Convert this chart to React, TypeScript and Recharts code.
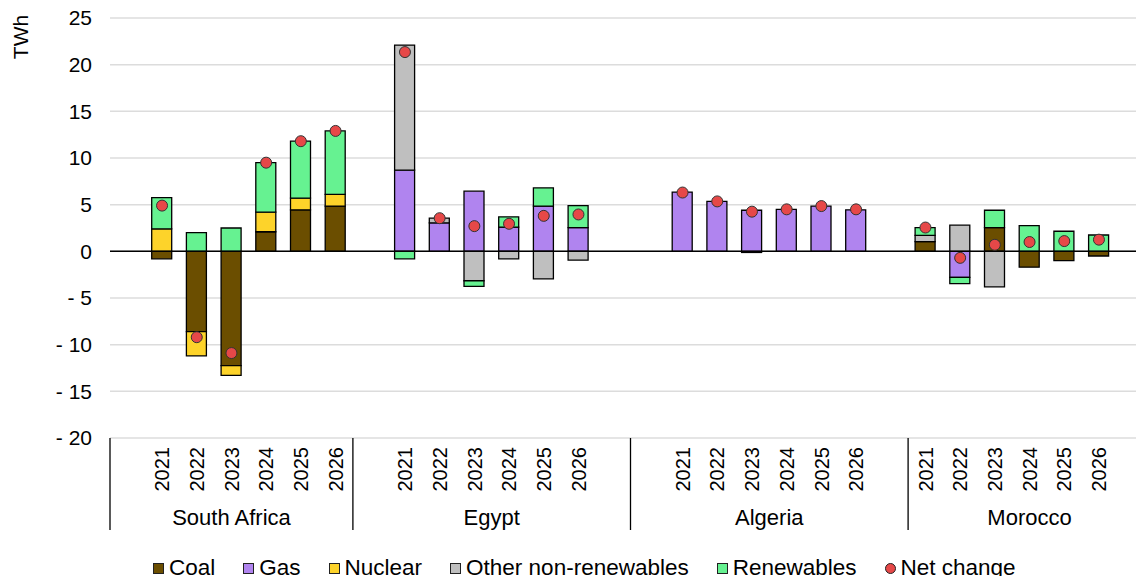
import {
  ComposedChart, Bar, Line, XAxis, YAxis, CartesianGrid, ReferenceLine, Legend,
} from 'recharts';

const countries = ['South Africa', 'Egypt', 'Algeria', 'Morocco'];
const years = ['2021', '2022', '2023', '2024', '2025', '2026'];

// TWh, six years per country, countries in the order above
const coal = [
  -0.8, -8.6, -12.25, 2.1, 4.45, 4.85,
  0, 0, 0, 0, 0, 0,
  0, 0, -0.12, 0, 0, 0,
  1.05, 0, 2.55, -1.7, -1.0, -0.5,
];
const gas = [
  0, 0, 0, 0, 0, 0,
  8.7, 3.05, 6.45, 2.6, 4.85, 2.55,
  6.35, 5.35, 4.4, 4.5, 4.85, 4.45,
  0, -2.8, 0, 0, 0, 0,
];
const nuclear = [
  2.4, -2.6, -1.05, 2.1, 1.25, 1.25,
  0, 0, 0, 0, 0, 0,
  0, 0, 0, 0, 0, 0,
  0, 0, 0, 0, 0, 0,
];
const other = [
  0, 0, 0, 0, 0, 0,
  13.4, 0.5, -3.15, -0.8, -2.95, -0.95,
  0, 0, 0, 0, 0, 0,
  0.65, 2.8, -3.8, 0, 0, 0,
];
const renewables = [
  3.35, 2.0, 2.5, 5.3, 6.1, 6.8,
  -0.8, 0, -0.6, 1.1, 1.95, 2.35,
  0, 0, 0, 0, 0, 0,
  0.85, -0.65, 1.85, 2.75, 2.15, 1.75,
];
const netChange = [
  4.9, -9.2, -10.9, 9.5, 11.8, 12.9,
  21.35, 3.55, 2.7, 2.95, 3.8, 3.95,
  6.3, 5.35, 4.25, 4.5, 4.85, 4.5,
  2.55, -0.7, 0.7, 1.0, 1.1, 1.25,
];

const yTicks = [-20, -15, -10, -5, 0, 5, 10, 15, 20, 25];

// blank slots before / after each country block
const gapsBefore = [1, 1, 1, 0];
const gapsAfter = [0, 1, 1, 1];

const COLORS = {
  coal: '#6b4e00',
  gas: '#b084ef',
  nuclear: '#fdd32a',
  other: '#bfbfbf',
  renewables: '#66f291',
  net: '#e64848',
};

const FONT = '"Liberation Sans", Arial, sans-serif';
const CHART_W = 1151;
const CHART_H = 584;
const Y_AXIS_W = 110;
const PLOT_BOTTOM = 438;

type Row = {
  key: string;
  country: string;
  year: string;
  groupSize?: number;
  coal?: number | null;
  gas?: number | null;
  nuclear?: number | null;
  other?: number | null;
  renewables?: number | null;
  net?: number | null;
};

const nz = (v: number) => (v === 0 ? null : v);

const rows: Row[] = [];
countries.forEach((c, ci) => {
  const start = rows.length;
  for (let g = 0; g < gapsBefore[ci]; g++) rows.push({ key: `${c}-a${g}`, country: c, year: '' });
  years.forEach((y, yi) => {
    const i = ci * 6 + yi;
    rows.push({
      key: `${c}-${y}`,
      country: c,
      year: y,
      coal: nz(coal[i]),
      gas: nz(gas[i]),
      nuclear: nz(nuclear[i]),
      other: nz(other[i]),
      renewables: nz(renewables[i]),
      net: netChange[i],
    });
  });
  for (let g = 0; g < gapsAfter[ci]; g++) rows.push({ key: `${c}-b${g}`, country: c, year: '' });
  rows[start].groupSize = rows.length - start;
});

const SLOT = (CHART_W - Y_AXIS_W) / rows.length;

function CategoryTick(props: any) {
  const { x, payload } = props;
  const row = rows.find((r) => r.key === payload.value);
  if (!row) return null;
  const left = x - SLOT / 2;
  return (
    <g>
      {row.year && (
        <text
          transform={`translate(${x},${PLOT_BOTTOM + 9}) rotate(-90)`}
          dy="0.36em"
          textAnchor="end"
          fontSize={20}
          fontFamily={FONT}
          fill="#000"
        >
          {row.year}
        </text>
      )}
      {row.groupSize && (
        <>
          <line x1={left} x2={left} y1={PLOT_BOTTOM} y2={530} stroke="#000" strokeWidth={1.3} />
          <text
            x={left + (row.groupSize * SLOT) / 2}
            y={525}
            textAnchor="middle"
            fontSize={22}
            fontFamily={FONT}
            fill="#000"
          >
            {row.country}
          </text>
        </>
      )}
    </g>
  );
}

const legendItems = [
  { name: 'Coal', color: COLORS.coal, dot: false },
  { name: 'Gas', color: COLORS.gas, dot: false },
  { name: 'Nuclear', color: COLORS.nuclear, dot: false },
  { name: 'Other non-renewables', color: COLORS.other, dot: false },
  { name: 'Renewables', color: COLORS.renewables, dot: false },
  { name: 'Net change', color: COLORS.net, dot: true },
];

function LegendContent() {
  return (
    <div
      style={{
        display: 'flex',
        alignItems: 'center',
        height: 40,
        paddingLeft: 153,
        boxSizing: 'border-box',
        fontFamily: FONT,
        fontSize: 22.5,
        lineHeight: '26px',
        color: '#000',
      }}
    >
      {legendItems.map((it) => (
        <div key={it.name} style={{ display: 'flex', alignItems: 'center', marginRight: 28 }}>
          <span
            style={{
              width: 9,
              height: 9,
              background: it.color,
              border: '1px solid #222',
              borderRadius: it.dot ? '50%' : 0,
              marginRight: 5,
            }}
          />
          <span>{it.name}</span>
        </div>
      ))}
    </div>
  );
}

const fmt = (v: number) => (v < 0 ? `- ${-v}` : `${v}`);

export default function App() {
  const barProps = { stackId: 's', stroke: '#000', strokeWidth: 1.3, isAnimationActive: false };
  return (
    <div style={{ margin: -8, width: 1144, height: 584, overflow: 'hidden', background: '#fff', fontFamily: FONT }}>
      <ComposedChart
        width={CHART_W}
        height={CHART_H}
        data={rows}
        stackOffset="sign"
        barSize={20}
        margin={{ top: 18, right: 0, bottom: 0, left: 0 }}
      >
        <CartesianGrid vertical={false} stroke="#dcdcdc" strokeWidth={1.5} />
        <XAxis
          dataKey="key"
          type="category"
          interval={0}
          axisLine={false}
          tickLine={false}
          height={106}
          tick={<CategoryTick />}
        />
        <YAxis
          domain={[-20, 25]}
          ticks={yTicks}
          width={Y_AXIS_W}
          axisLine={false}
          tickLine={false}
          tickSize={0}
          tickMargin={18}
          tickFormatter={fmt}
          tick={{ fill: '#000', fontSize: 21, fontFamily: FONT }}
          label={{
            content: () => (
              <text
                transform="translate(20,37) rotate(-90)"
                dy="0.36em"
                textAnchor="middle"
                fontSize={21}
                fontFamily={FONT}
                fill="#000"
              >
                TWh
              </text>
            ),
          }}
        />
        <Bar dataKey="coal" fill={COLORS.coal} {...barProps} />
        <Bar dataKey="gas" fill={COLORS.gas} {...barProps} />
        <Bar dataKey="nuclear" fill={COLORS.nuclear} {...barProps} />
        <Bar dataKey="other" fill={COLORS.other} {...barProps} />
        <Bar dataKey="renewables" fill={COLORS.renewables} {...barProps} />
        <ReferenceLine y={0} stroke="#000" strokeWidth={1.5} />
        <Line
          dataKey="net"
          stroke="none"
          isAnimationActive={false}
          dot={{ r: 5.5, fill: COLORS.net, stroke: '#333', strokeWidth: 1 }}
          activeDot={false}
        />
        <Legend
          verticalAlign="bottom"
          height={40}
          content={<LegendContent />}
          wrapperStyle={{ top: 548, left: 0, bottom: 'auto' }}
        />
      </ComposedChart>
    </div>
  );
}
